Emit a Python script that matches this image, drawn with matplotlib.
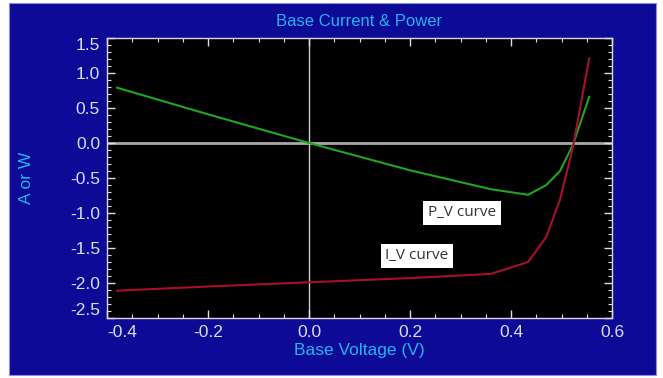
import matplotlib

matplotlib.use("Agg")
import matplotlib.pyplot as plt
from matplotlib.patches import Rectangle
from matplotlib.ticker import MultipleLocator

# base sweep readings
voltage = [-0.38, -0.20, 0.00, 0.20, 0.36, 0.434, 0.47, 0.497, 0.523, 0.537, 0.555]
current = [-2.11, -2.05, -1.99, -1.93, -1.87, -1.70, -1.34, -0.81, -0.05, 0.51, 1.21]
power = [0.79, 0.41, 0.00, -0.39, -0.66, -0.74, -0.60, -0.40, -0.02, 0.28, 0.66]

PANEL_C = "#0c0a96"
CYAN = "#22b4ec"
TICK_C = "#dcdcec"
GREEN = "#1fa61f"
RED = "#a8102a"

plt.rcParams["font.family"] = ["Liberation Sans", "DejaVu Sans"]
plt.rcParams["axes.unicode_minus"] = False

fig = plt.figure(figsize=(6.63, 3.78), dpi=100, facecolor="white")
# blue panel behind everything
fig.patches.append(Rectangle((9 / 663, 3 / 378), 647 / 663, 372 / 378,
                             transform=fig.transFigure, facecolor=PANEL_C,
                             edgecolor="#8c8ce0", linewidth=0.8, zorder=-10))

ax = fig.add_axes([107 / 663, 60 / 378, 505 / 663, 280 / 378])
ax.set_facecolor("black")
ax.set_xlim(-0.4, 0.6)
ax.set_ylim(-2.5, 1.5)

# reference axes through the origin
ax.axhline(0, color="#a8a8a8", linewidth=2.0, zorder=1)
ax.axvline(0, color="#d0d0d0", linewidth=1.0, zorder=1)

ax.plot(voltage, power, color=GREEN, linewidth=1.5, zorder=3)
ax.plot(voltage, current, color=RED, linewidth=1.5, zorder=3)

box = dict(boxstyle="square,pad=0.3", facecolor="white", edgecolor="none")
ax.text(0.303, -1.0, "P_V curve", ha="center", va="center", fontsize=11,
        color="#333333", family=["Open Sans", "DejaVu Sans"], bbox=box, zorder=4)
ax.text(0.214, -1.61, "I_V curve", ha="center", va="center", fontsize=11,
        color="#333333", family=["Open Sans", "DejaVu Sans"], bbox=box, zorder=4)

ax.set_xticks([-0.4, -0.2, 0.0, 0.2, 0.4, 0.6])
ax.set_yticks([-2.5, -2.0, -1.5, -1.0, -0.5, 0.0, 0.5, 1.0, 1.5])
ax.xaxis.set_minor_locator(MultipleLocator(0.05))
ax.yaxis.set_minor_locator(MultipleLocator(0.1))
ax.tick_params(which="both", direction="in", color=TICK_C, top=True, right=True)
ax.tick_params(which="major", length=6, width=1.0, labelsize=12.5,
               labelcolor=TICK_C, pad=5)
ax.tick_params(which="minor", length=3, width=0.8)
for side in ax.spines.values():
    side.set_color("#d8d8e8")
    side.set_linewidth(1.0)

# keep the end labels inside the frame
fig.canvas.draw()
for lab in ax.get_xticklabels():
    if lab.get_text() == "-0.4":
        lab.set_horizontalalignment("left")
for lab in ax.get_yticklabels():
    if lab.get_text() == "-2.5":
        lab.set_verticalalignment("bottom")
    elif lab.get_text() == "1.5":
        lab.set_verticalalignment("top")

ax.set_title("Base Current & Power", color=CYAN, fontsize=12, pad=9)
ax.set_xlabel("Base Voltage (V)", color=CYAN, fontsize=12.5, labelpad=2)
ax.set_ylabel("A or W", color=CYAN, fontsize=12.5, labelpad=26)

fig.savefig("out.png", dpi=100, facecolor="white")
